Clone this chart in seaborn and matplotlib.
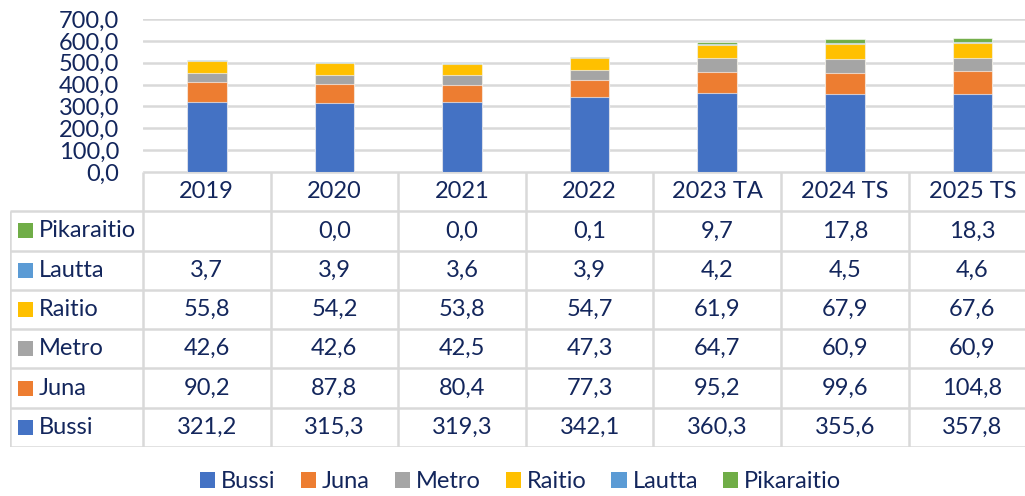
import matplotlib
matplotlib.use("Agg")
import matplotlib.pyplot as plt
from matplotlib.patches import Patch, Rectangle
import seaborn as sns
import numpy as np
import pandas as pd

years = ["2019", "2020", "2021", "2022", "2023 TA", "2024 TS", "2025 TS"]
series_names = ["Bussi", "Juna", "Metro", "Raitio", "Lautta", "Pikaraitio"]
bussi = [321.2, 315.3, 319.3, 342.1, 360.3, 355.6, 357.8]
juna = [90.2, 87.8, 80.4, 77.3, 95.2, 99.6, 104.8]
metro = [42.6, 42.6, 42.5, 47.3, 64.7, 60.9, 60.9]
raitio = [55.8, 54.2, 53.8, 54.7, 61.9, 67.9, 67.6]
lautta = [3.7, 3.9, 3.6, 3.9, 4.2, 4.5, 4.6]
pikaraitio = [None, 0.0, 0.0, 0.1, 9.7, 17.8, 18.3]
colors = ["#4472C4", "#ED7D31", "#A5A5A5", "#FFC000", "#5B9BD5", "#70AD47"]

series = [bussi, juna, metro, raitio, lautta, pikaraitio]
TXT = "#13265C"
GRID = "#D9D9D9"
FS = 17

sns.set_theme(style="white")
plt.rcParams["font.family"] = ["Lato", "DejaVu Sans"]

W, H = 1025, 496
fig = plt.figure(figsize=(W / 100, H / 100), dpi=100)

col_w = 127.6
x0 = 143
y_axis = 172
y_top = 19
right = x0 + 7 * col_w

ax = fig.add_axes([x0 / W, (H - y_axis) / H, (right - x0) / W, (y_axis - y_top) / H])

vals = np.array([[0.0 if v is None else v for v in s] for s in series])
cum = np.cumsum(vals, axis=0)
for k in range(len(series) - 1, -1, -1):
    df = pd.DataFrame({"year": years, "value": cum[k]})
    sns.barplot(data=df, x="year", y="value", order=years, color=colors[k],
                width=0.31, ax=ax, saturation=1, edgecolor=(1, 1, 1, 0.6),
                linewidth=0.8, zorder=3)

ax.set_xlim(-0.5, 6.5)
ax.set_ylim(0, 700)
ax.set_yticks(np.arange(0, 701, 100))
ax.set_yticklabels([f"{v:.1f}".replace(".", ",") for v in np.arange(0, 701, 100)],
                   fontsize=FS, color=TXT)
ax.tick_params(axis="y", length=0, pad=17)
ax.set_xticks([])
ax.set_xlabel("")
ax.set_ylabel("")
ax.grid(axis="y", color=GRID, linewidth=1.8, zorder=0)
for sp in ax.spines.values():
    sp.set_visible(False)

# data table
left_col = 10
tab = fig.add_axes([left_col / W, (H - 447) / H, (right - left_col) / W, (447 - y_axis) / H])
lw_units = (x0 - left_col) / col_w
tab.set_xlim(-0.5 - lw_units, 6.5)
tab.set_ylim(7, 0)
tab.axis("off")
lc = GRID
lwid = 1.8
tab.plot([-0.5, 6.5], [0, 0], color=lc, lw=lwid, solid_capstyle="butt")
for i in range(8):
    tab.plot([-0.5 + i, -0.5 + i], [0, 7], color=lc, lw=lwid, solid_capstyle="butt")
tab.plot([-0.5 - lw_units] * 2, [1, 7], color=lc, lw=lwid, solid_capstyle="butt")
for r in range(1, 8):
    tab.plot([-0.5 - lw_units, 6.5], [r, r], color=lc, lw=lwid, solid_capstyle="butt")

for i, y in enumerate(years):
    tab.text(i, 0.5, y, ha="center", va="center", fontsize=FS, color=TXT)

row_order = list(range(len(series) - 1, -1, -1))
px_unit = 1 / col_w
for r, k in enumerate(row_order):
    yc = r + 1.5
    tab.add_patch(Rectangle((-0.5 - lw_units + 8 * px_unit, yc - 0.19), 15 * px_unit, 0.38,
                            color=colors[k], lw=0))
    tab.text(-0.5 - lw_units + 29 * px_unit, yc, series_names[k], ha="left", va="center",
             fontsize=FS, color=TXT)
    for i, v in enumerate(series[k]):
        if v is None:
            continue
        tab.text(i, yc, f"{v:.1f}".replace(".", ","), ha="center", va="center",
                 fontsize=FS, color=TXT)

handles = [Patch(facecolor=c, edgecolor="none") for c in colors]
fig.legend(handles, series_names, loc="center", bbox_to_anchor=(0.508, (H - 482) / H),
           ncol=6, frameon=False, fontsize=FS, labelcolor=TXT,
           handlelength=0.64, handleheight=0.64, handletextpad=0.25, columnspacing=1.06)

fig.savefig("out.png", dpi=100)
